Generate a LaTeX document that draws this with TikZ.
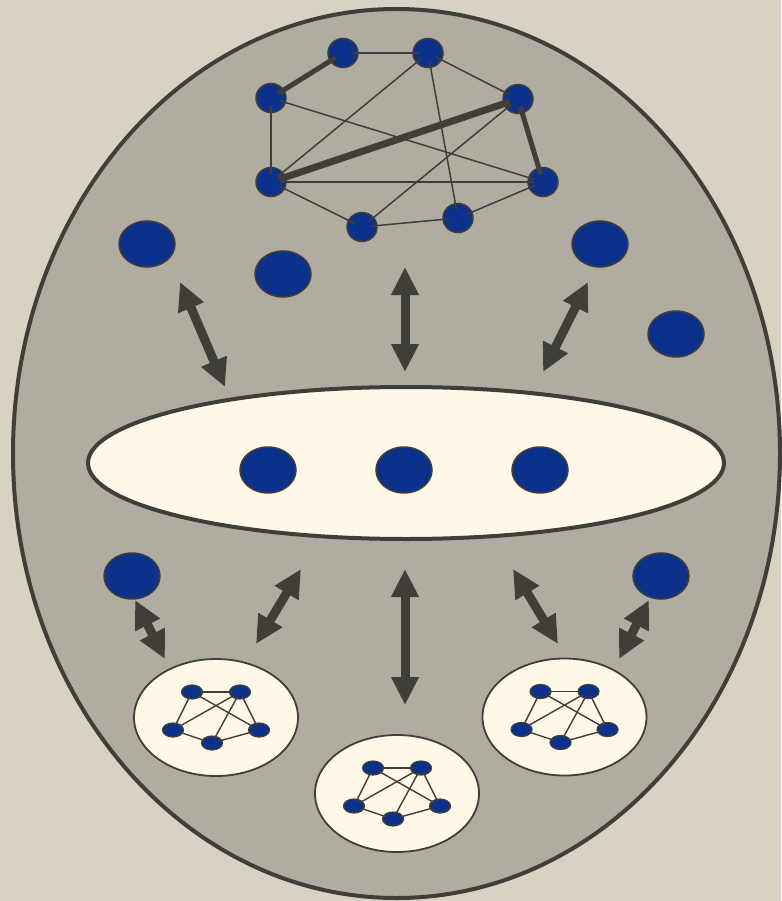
\documentclass[tikz,border=0pt]{standalone}
\usetikzlibrary{shapes.geometric,arrows.meta}
\definecolor{bg}{HTML}{D8D2C4}
\definecolor{outerfill}{HTML}{B0ACA1}
\definecolor{edgec}{HTML}{403E38}
\definecolor{nodeblue}{HTML}{0B318A}
\definecolor{cream}{HTML}{FFF7E8}
\tikzset{
  bignode/.style={ellipse,draw=edgec,line width=1.5pt,fill=nodeblue,minimum width=56pt,minimum height=46pt,inner sep=0pt},
  topnode/.style={ellipse,draw=edgec,line width=1.5pt,fill=nodeblue,minimum width=30pt,minimum height=29pt,inner sep=0pt},
  tinynode/.style={ellipse,draw=edgec,line width=1.2pt,fill=nodeblue,minimum width=21pt,minimum height=14pt,inner sep=0pt},
  graphedge/.style={draw=edgec,line width=1.5pt,shorten <=-7pt,shorten >=-7pt},
  miniedge/.style={draw=edgec,line width=1.4pt,shorten <=-3pt,shorten >=-3pt},
  minicircle/.style={ellipse,draw=edgec,line width=1.8pt,fill=cream,minimum width=164pt,minimum height=117pt,inner sep=0pt},
  dblarrow/.style={draw=edgec,line width=9pt,{Triangle[length=28pt,width=26pt]}-{Triangle[length=28pt,width=26pt]}},
  minigraph/.pic={
    \node[tinynode] (-a) at (-24,-25.5) {};
    \node[tinynode] (-b) at (24,-25.5) {};
    \node[tinynode] (-c) at (-43,12.5) {};
    \node[tinynode] (-d) at (-4,25.5) {};
    \node[tinynode] (-e) at (43,12.5) {};
    \draw[miniedge] (-a) -- (-b);
    \draw[miniedge] (-a) -- (-c);
    \draw[miniedge] (-a) -- (-e);
    \draw[miniedge] (-b) -- (-c);
    \draw[miniedge] (-b) -- (-d);
    \draw[miniedge] (-b) -- (-e);
    \draw[miniedge] (-c) -- (-d);
    \draw[miniedge] (-d) -- (-e);
  }
}
\begin{document}
\begin{tikzpicture}[x=1pt,y=-1pt]
\useasboundingbox (0,0) rectangle (781,901);
\fill[bg] (0,0) rectangle (781,901);
% outer ellipse
\node[ellipse,draw=edgec,line width=4pt,fill=outerfill,minimum width=767pt,minimum height=889pt,inner sep=0pt] (outer) at (396.5,453.5) {};
% inner ellipse
\node[ellipse,draw=edgec,line width=4pt,fill=cream,minimum width=636pt,minimum height=152pt,inner sep=0pt] (inner) at (406,463) {};
\node[bignode] (c1) at (268,470) {};
\node[bignode] (c2) at (404,470) {};
\node[bignode] (c3) at (540,470) {};
% loose nodes
\node[bignode] (l1) at (147,244) {};
\node[bignode] (l2) at (283,274) {};
\node[bignode] (l3) at (600,244) {};
\node[bignode] (l4) at (676,334) {};
\node[bignode] (l5) at (132,576) {};
\node[bignode] (l6) at (661,576) {};
% top graph
\node[topnode] (n1) at (343,53) {};
\node[topnode] (n2) at (428,53) {};
\node[topnode] (n3) at (271,98) {};
\node[topnode] (n4) at (518,99) {};
\node[topnode] (n5) at (271,182) {};
\node[topnode] (n6) at (543,182) {};
\node[topnode] (n7) at (362,227) {};
\node[topnode] (n8) at (458,218) {};
\draw[graphedge] (n1) -- (n2);
\draw[graphedge,line width=5pt] (n1) -- (n3);
\draw[graphedge] (n2) -- (n4);
\draw[graphedge] (n2) -- (n5);
\draw[graphedge] (n2) -- (n8);
\draw[graphedge] (n3) -- (n5);
\draw[graphedge] (n3) -- (n6);
\draw[graphedge,line width=7pt] (n4) -- (n5);
\draw[graphedge,line width=5pt] (n4) -- (n6);
\draw[graphedge] (n4) -- (n7);
\draw[graphedge] (n5) -- (n6);
\draw[graphedge] (n5) -- (n7);
\draw[graphedge] (n7) -- (n8);
\draw[graphedge] (n8) -- (n6);
% small graphs
\node[minicircle] (g1) at (216,717.5) {};
\pic (g1n) at (216,717.5) {minigraph};
\node[minicircle] (g2) at (397,793.5) {};
\pic (g2n) at (397,793.5) {minigraph};
\node[minicircle] (g3) at (564.5,717) {};
\pic (g3n) at (564.5,717) {minigraph};
% arrows
\coordinate (ula) at (180,282); \coordinate (ulb) at (225,387);
\coordinate (uca) at (405,267); \coordinate (ucb) at (405,372);
\coordinate (ura) at (588,282); \coordinate (urb) at (543,372);
\coordinate (la1) at (135,600); \coordinate (lb1) at (165,659);
\coordinate (la2) at (301,569); \coordinate (lb2) at (256,644);
\coordinate (la3) at (405,569); \coordinate (lb3) at (405,705);
\coordinate (la4) at (513,569); \coordinate (lb4) at (558,644);
\coordinate (la5) at (649,600); \coordinate (lb5) at (619,659);
\draw[dblarrow] (ula) -- (ulb);
\draw[dblarrow] (uca) -- (ucb);
\draw[dblarrow] (ura) -- (urb);
\draw[dblarrow] (la1) -- (lb1);
\draw[dblarrow] (la2) -- (lb2);
\draw[dblarrow] (la3) -- (lb3);
\draw[dblarrow] (la4) -- (lb4);
\draw[dblarrow] (la5) -- (lb5);
\end{tikzpicture}
\end{document}
